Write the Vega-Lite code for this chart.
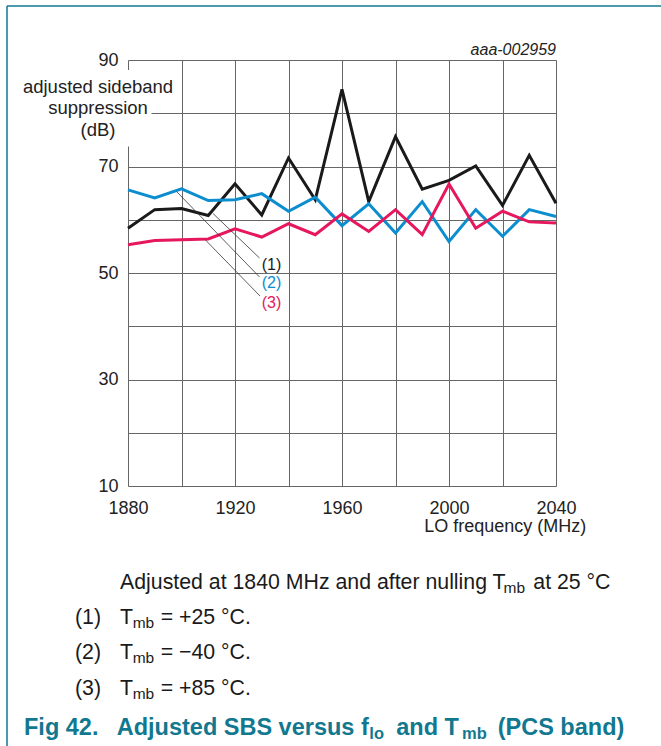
{
  "$schema": "https://vega.github.io/schema/vega-lite/v6.json",
  "width": 428,
  "height": 426,
  "autosize": {"type": "none"},
  "padding": {"left": 128, "top": 60, "right": 105, "bottom": 260},
  "background": "white",
  "config": {"view": {"stroke": null}, "font": "Liberation Sans", "text": {"font": "Liberation Sans"}},
  "datasets": {
    "series": [
      {"f": 1880, "v": 58.4, "s": "1"}, {"f": 1890, "v": 61.9, "s": "1"}, {"f": 1900, "v": 62.1, "s": "1"}, {"f": 1910, "v": 60.8, "s": "1"},
      {"f": 1920, "v": 66.75, "s": "1"}, {"f": 1930, "v": 60.9, "s": "1"}, {"f": 1940, "v": 71.6, "s": "1"}, {"f": 1950, "v": 63.75, "s": "1"},
      {"f": 1960, "v": 84.5, "s": "1"}, {"f": 1970, "v": 63.4, "s": "1"}, {"f": 1980, "v": 75.6, "s": "1"}, {"f": 1990, "v": 65.75, "s": "1"},
      {"f": 2000, "v": 67.4, "s": "1"}, {"f": 2010, "v": 70.1, "s": "1"}, {"f": 2020, "v": 62.7, "s": "1"}, {"f": 2030, "v": 72.1, "s": "1"},
      {"f": 2040, "v": 63.1, "s": "1"},
      {"f": 1880, "v": 65.6, "s": "2"}, {"f": 1890, "v": 64.1, "s": "2"}, {"f": 1900, "v": 65.8, "s": "2"}, {"f": 1910, "v": 63.6, "s": "2"},
      {"f": 1920, "v": 63.75, "s": "2"}, {"f": 1930, "v": 64.9, "s": "2"}, {"f": 1940, "v": 61.6, "s": "2"}, {"f": 1950, "v": 64.25, "s": "2"},
      {"f": 1960, "v": 58.9, "s": "2"}, {"f": 1970, "v": 63.0, "s": "2"}, {"f": 1980, "v": 57.5, "s": "2"}, {"f": 1990, "v": 63.4, "s": "2"},
      {"f": 2000, "v": 55.9, "s": "2"}, {"f": 2010, "v": 61.9, "s": "2"}, {"f": 2020, "v": 56.9, "s": "2"}, {"f": 2030, "v": 61.9, "s": "2"},
      {"f": 2040, "v": 60.6, "s": "2"},
      {"f": 1880, "v": 55.3, "s": "3"}, {"f": 1890, "v": 56.1, "s": "3"}, {"f": 1900, "v": 56.25, "s": "3"}, {"f": 1910, "v": 56.4, "s": "3"},
      {"f": 1920, "v": 58.3, "s": "3"}, {"f": 1930, "v": 56.75, "s": "3"}, {"f": 1940, "v": 59.25, "s": "3"}, {"f": 1950, "v": 57.2, "s": "3"},
      {"f": 1960, "v": 61.1, "s": "3"}, {"f": 1970, "v": 57.8, "s": "3"}, {"f": 1980, "v": 61.9, "s": "3"}, {"f": 1990, "v": 57.2, "s": "3"},
      {"f": 2000, "v": 66.7, "s": "3"}, {"f": 2010, "v": 58.4, "s": "3"}, {"f": 2020, "v": 61.6, "s": "3"}, {"f": 2030, "v": 59.6, "s": "3"},
      {"f": 2040, "v": 59.4, "s": "3"}
    ],
    "leaders": [
      {"s": "1", "f": 1911.78, "v": 61.17, "f2": 1929.16, "v2": 52.82},
      {"s": "2", "f": 1898.2, "v": 65.27, "f2": 1929.16, "v2": 49.25},
      {"s": "3", "f": 1908.78, "v": 56.29, "f2": 1929.35, "v2": 45.68}
    ],
    "labels": [
      {"s": "1", "t": "(1)", "f": 1929.98, "v": 51.5},
      {"s": "2", "t": "(2)", "f": 1929.98, "v": 48.03},
      {"s": "3", "t": "(3)", "f": 1929.98, "v": 44.4}
    ],
    "mask": [{"f": 1879.25, "f2": 1888.79, "v": 88.12, "v2": 73.76}],
    "ytitle": [
      {"t": "adjusted sideband", "f": 1868.79, "v": 83.86},
      {"t": "suppression", "f": 1868.79, "v": 79.78},
      {"t": "(dB)", "f": 1868.79, "v": 75.71}
    ],
    "frame": [
      {"f": 1834.77, "v": 100.14, "f2": 2079.25, "v2": 100.14},
      {"f": 1834.77, "v": 100.14, "f2": 1834.77, "v2": -38.83}
    ],
    "body": [
      {"t": "Adjusted at 1840 MHz and after nulling T", "f": 1877.01, "v": -9.4},
      {"t": "at 25 °C", "f": 2031.51, "v": -9.4},
      {"t": "(1)", "f": 1860.19, "v": -15.97},
      {"t": "T", "f": 1877.01, "v": -15.97},
      {"t": "= +25 °C.", "f": 1892.22, "v": -15.97},
      {"t": "(2)", "f": 1860.19, "v": -22.54},
      {"t": "T", "f": 1877.01, "v": -22.54},
      {"t": "= −40 °C.", "f": 1892.22, "v": -22.54},
      {"t": "(3)", "f": 1860.19, "v": -29.25},
      {"t": "T", "f": 1877.01, "v": -29.25},
      {"t": "= +85 °C.", "f": 1892.22, "v": -29.25}
    ],
    "bodysub": [
      {"t": "mb", "f": 2020.4, "v": -10.15},
      {"t": "mb", "f": 1881.76, "v": -16.72},
      {"t": "mb", "f": 1881.76, "v": -23.29},
      {"t": "mb", "f": 1881.76, "v": -30.0}
    ],
    "caption": [
      {"t": "Fig 42.", "f": 1841.12, "v": -36.76},
      {"t": "Adjusted SBS versus f", "f": 1875.78, "v": -36.76},
      {"t": "and T", "f": 1980.3, "v": -36.76},
      {"t": "(PCS band)", "f": 2018.2, "v": -36.76}
    ],
    "captionsub": [
      {"t": "lo", "f": 1970.21, "v": -37.6},
      {"t": "mb", "f": 2004.9, "v": -37.6}
    ],
    "code": [{"t": "aaa-002959", "f": 2040, "v": 90.94}]
  },
  "layer": [
    {
      "data": {"name": "series"},
      "mark": {"type": "line", "strokeWidth": 3},
      "encoding": {
        "x": {
          "field": "f", "type": "quantitative",
          "scale": {"domain": [1880, 2040], "nice": false, "zero": false},
          "axis": {
            "values": [1880, 1900, 1920, 1940, 1960, 1980, 2000, 2020, 2040],
            "format": "d",
            "labelExpr": "datum.value % 40 == 0 ? datum.label : ''",
            "grid": true, "gridColor": "#666666", "gridWidth": 1, "gridOpacity": 1,
            "ticks": false, "domain": false,
            "labelFont": "Liberation Sans", "labelFontSize": 18, "labelColor": "#222222", "labelPadding": 13,
            "labelFlush": false, "labelOverlap": false,
            "title": "LO frequency (MHz)",
            "titleFont": "Liberation Sans", "titleFontSize": 18, "titleFontWeight": "normal", "titleColor": "#222222",
            "titleAlign": "right", "titleAnchor": "end", "titleBaseline": "alphabetic", "titleX": 457.7, "titleY": 45.7
          }
        },
        "y": {
          "field": "v", "type": "quantitative",
          "scale": {"domain": [10, 90], "nice": false, "zero": false},
          "axis": {
            "values": [10, 20, 30, 40, 50, 60, 70, 80, 90],
            "format": "d",
            "labelExpr": "(datum.value - 10) % 20 == 0 ? datum.label : ''",
            "grid": true, "gridColor": "#666666", "gridWidth": 1, "gridOpacity": 1,
            "ticks": false, "domain": false,
            "labelFont": "Liberation Sans", "labelFontSize": 18, "labelColor": "#222222", "labelPadding": 10,
            "labelFlush": false, "labelOverlap": false,
            "title": null
          }
        },
        "color": {
          "field": "s", "type": "nominal",
          "scale": {"domain": ["1", "2", "3"], "range": ["#1a1a1a", "#0b8dcf", "#e6175c"]},
          "legend": null
        },
        "order": {"field": "f", "type": "quantitative"}
      }
    },
    {
      "data": {"name": "mask"},
      "mark": {"type": "rect", "fill": "white", "stroke": null},
      "encoding": {
        "x": {"field": "f", "type": "quantitative"},
        "x2": {"field": "f2"},
        "y": {"field": "v", "type": "quantitative"},
        "y2": {"field": "v2"}
      }
    },
    {
      "data": {"name": "leaders"},
      "mark": {"type": "rule", "color": "#333333", "strokeWidth": 0.8},
      "encoding": {
        "x": {"field": "f", "type": "quantitative"},
        "x2": {"field": "f2"},
        "y": {"field": "v", "type": "quantitative"},
        "y2": {"field": "v2"}
      }
    },
    {
      "data": {"name": "labels"},
      "mark": {"type": "text", "align": "left", "baseline": "middle", "fontSize": 16, "font": "Liberation Sans"},
      "encoding": {
        "x": {"field": "f", "type": "quantitative"},
        "y": {"field": "v", "type": "quantitative"},
        "text": {"field": "t"},
        "color": {"field": "s", "type": "nominal", "legend": null}
      }
    },
    {
      "data": {"name": "ytitle"},
      "mark": {"type": "text", "align": "center", "baseline": "alphabetic", "fontSize": 18.5, "color": "#222222", "font": "Liberation Sans"},
      "encoding": {
        "x": {"field": "f", "type": "quantitative"},
        "y": {"field": "v", "type": "quantitative"},
        "text": {"field": "t"}
      }
    },
    {
      "data": {"name": "frame"},
      "mark": {"type": "rule", "color": "#12788f", "strokeWidth": 1.5},
      "encoding": {
        "x": {"field": "f", "type": "quantitative"},
        "x2": {"field": "f2"},
        "y": {"field": "v", "type": "quantitative"},
        "y2": {"field": "v2"}
      }
    },
    {
      "data": {"name": "body"},
      "mark": {"type": "text", "align": "left", "baseline": "alphabetic", "fontSize": 21.3, "color": "#1a1a1a", "font": "Liberation Sans"},
      "encoding": {
        "x": {"field": "f", "type": "quantitative"},
        "y": {"field": "v", "type": "quantitative"},
        "text": {"field": "t"}
      }
    },
    {
      "data": {"name": "bodysub"},
      "mark": {"type": "text", "align": "left", "baseline": "alphabetic", "fontSize": 15.5, "color": "#1a1a1a", "font": "Liberation Sans"},
      "encoding": {
        "x": {"field": "f", "type": "quantitative"},
        "y": {"field": "v", "type": "quantitative"},
        "text": {"field": "t"}
      }
    },
    {
      "data": {"name": "caption"},
      "mark": {"type": "text", "align": "left", "baseline": "alphabetic", "fontSize": 23.5, "fontWeight": "bold", "color": "#12788f", "font": "Liberation Sans"},
      "encoding": {
        "x": {"field": "f", "type": "quantitative"},
        "y": {"field": "v", "type": "quantitative"},
        "text": {"field": "t"}
      }
    },
    {
      "data": {"name": "captionsub"},
      "mark": {"type": "text", "align": "left", "baseline": "alphabetic", "fontSize": 16.5, "fontWeight": "bold", "color": "#12788f", "font": "Liberation Sans"},
      "encoding": {
        "x": {"field": "f", "type": "quantitative"},
        "y": {"field": "v", "type": "quantitative"},
        "text": {"field": "t"}
      }
    },
    {
      "data": {"name": "code"},
      "mark": {"type": "text", "align": "right", "baseline": "alphabetic", "fontSize": 16, "fontStyle": "italic", "color": "#222222", "font": "Liberation Sans"},
      "encoding": {
        "x": {"field": "f", "type": "quantitative"},
        "y": {"field": "v", "type": "quantitative"},
        "text": {"field": "t"}
      }
    }
  ]
}
